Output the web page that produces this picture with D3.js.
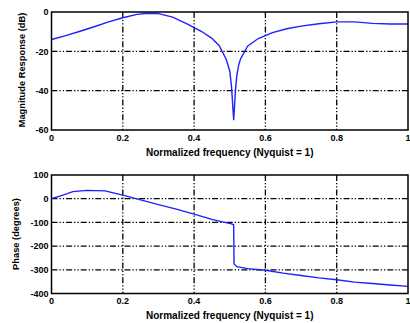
<!DOCTYPE html>
<html><head><meta charset="utf-8">
<script src="https://cdn.jsdelivr.net/npm/d3@7"></script>
<style>
html,body{margin:0;padding:0;background:#fff;}
text{font-family:"Liberation Sans",Arial,sans-serif;font-weight:bold;fill:#000;}
</style></head>
<body>
<svg id="c" width="410" height="323"></svg>
<script>
// Magnitude response
const magFreq = [0,0.04,0.08,0.12,0.16,0.2,0.24,0.27,0.3,0.34,0.38,0.42,0.45,0.47,0.49,0.5,0.505,0.511,0.516,0.52,0.525,0.53,0.55,0.58,0.62,0.66,0.7,0.75,0.8,0.85,0.9,0.95,1.0];
const magDB   = [-14,-12,-9.8,-7.5,-5,-2.9,-1.2,-0.6,-0.8,-2.6,-6,-9.8,-13.4,-17,-24,-30,-38,-55,-40,-32,-27,-24,-17.4,-13.5,-10.5,-8.5,-7.2,-6,-5,-5,-5.8,-6.1,-6.1];
// Phase response
const phaseFreq = [0,0.03,0.06,0.1,0.15,0.2,0.25,0.3,0.35,0.4,0.45,0.48,0.505,0.511,0.512,0.52,0.55,0.6,0.65,0.7,0.75,0.8,0.85,0.9,0.95,1.0];
const phaseDeg  = [0,14,30,35,33,15,-5,-25,-44,-65,-87,-98,-106,-110,-275,-287,-295,-302,-314,-324,-334,-342,-352,-358,-364,-370];
// Axis ticks
const xTicks = [0,0.2,0.4,0.6,0.8,1];
const xTickLabels = ["0","0.2","0.4","0.6","0.8","1"];
const magTicks = [0,-20,-40,-60];
const magTickLabels = ["0","-20","-40","-60"];
const phaseTicks = [100,0,-100,-200,-300,-400];
const phaseTickLabels = ["100","0","-100","-200","-300","-400"];
const xLabel = "Normalized frequency (Nyquist = 1)";
const magYLabel = "Magnitude Response (dB)";
const phaseYLabel = "Phase (degrees)";

const svg = d3.select("#c");
const x0 = 51.5, x1 = 408;

function panel(opts){
  const g = svg.append("g");
  const x = d3.scaleLinear().domain([0,1]).range([x0,x1]);
  const y = d3.scaleLinear().domain(opts.ydom).range([opts.yb, opts.yt]);
  const dash = "6,2,1.3,2,1.3,2";
  // grid
  g.selectAll(".vg").data(xTicks.slice(1,-1)).enter().append("line")
    .attr("x1",d=>x(d)).attr("x2",d=>x(d)).attr("y1",opts.yt).attr("y2",opts.yb)
    .attr("stroke","#000").attr("stroke-width",1.3).attr("stroke-dasharray",dash);
  g.selectAll(".hg").data(opts.yticks.slice(1,-1)).enter().append("line")
    .attr("x1",x0).attr("x2",x1).attr("y1",d=>y(d)).attr("y2",d=>y(d))
    .attr("stroke","#000").attr("stroke-width",1.3).attr("stroke-dasharray",dash);
  // line
  const line = d3.line().x(d=>x(d[0])).y(d=>y(d[1]));
  g.append("path").datum(d3.zip(opts.fx, opts.fy)).attr("d",line)
    .attr("fill","none").attr("stroke","#1f1fff").attr("stroke-width",1.4);
  // box
  g.append("rect").attr("x",x0).attr("y",opts.yt).attr("width",x1-x0).attr("height",opts.yb-opts.yt)
    .attr("fill","none").attr("stroke","#000").attr("stroke-width",1.5);
  // tick labels
  g.selectAll(".xt").data(xTicks).enter().append("text")
    .attr("x",d=>x(d)).attr("y",opts.yb+10.5).attr("text-anchor","middle")
    .attr("font-size",9).text((d,i)=>xTickLabels[i]);
  g.selectAll(".yt").data(opts.yticks).enter().append("text")
    .attr("x",x0-3).attr("y",d=>y(d)+3.2).attr("text-anchor","end")
    .attr("font-size",9).text((d,i)=>opts.ylabels[i]);
  g.append("text").attr("x",(x0+x1)/2).attr("y",opts.yb+25.5).attr("text-anchor","middle")
    .attr("font-size",10).text(xLabel);
  g.append("text").attr("transform",`translate(${opts.ylx},${opts.yly}) rotate(-90)`)
    .attr("text-anchor","middle").attr("font-size",9.3).text(opts.ytitle);
}

panel({ydom:[-60,0], yt:12, yb:130, yticks:magTicks, ylabels:magTickLabels,
  fx:magFreq, fy:magDB, ytitle:magYLabel, ylx:25, yly:70});
panel({ydom:[-400,100], yt:175, yb:293.5, yticks:phaseTicks, ylabels:phaseTickLabels,
  fx:phaseFreq, fy:phaseDeg, ytitle:phaseYLabel, ylx:19, yly:234});
</script>
</body></html>
